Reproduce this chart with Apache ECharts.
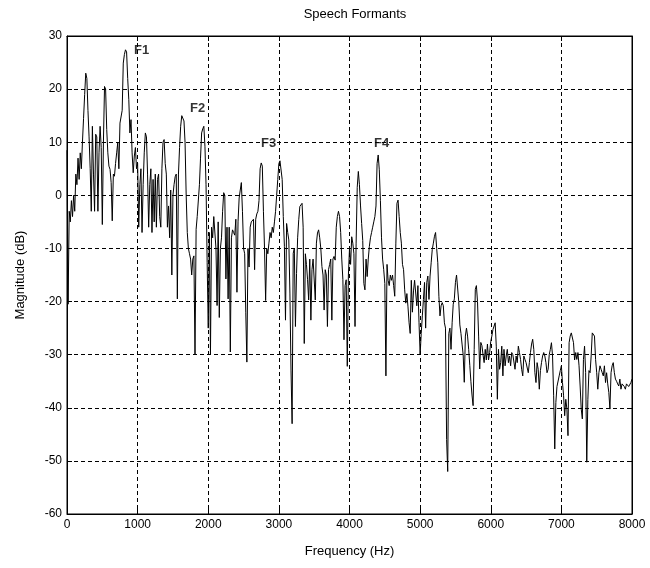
<!DOCTYPE html>
<html>
<head>
<meta charset="utf-8">
<script src="https://cdn.jsdelivr.net/npm/echarts@6/dist/echarts.min.js"></script>
<style>
  html, body { margin: 0; padding: 0; background: #fff; }
  #chart { width: 650px; height: 568px; }
</style>
</head>
<body>
<div id="chart"></div>
<script>
// spectrum bins, 0 .. 8000 Hz, 15.625 Hz apart
const binHz = 15.625
const magnitude = [
  8.5, -20.5, -3, -5, -1, -4, 0, -3, 4, 2,
  7, 3, 8, 5, 10, 14.5, 19, 23, 22, 16,
  11, 5, -3, 13, 4, -3, 11.5, 11, -3, 8,
  13, 9, -5.5, 10, 20.5, 20, 12.4, 8, 5.5, 4.9,
  2.4, -4.8, 4, 3.6, 6, 8, 9.9, 5, 13.6, 13.9,
  16, 24.9, 26.5, 27.4, 27, 22, 18, 11.75, 14.25, 8,
  4.25, 7.4, 9, 5, 6, -6, 2, 5, -7, 2,
  8, 11.75, 11, 4, -6, 2, 5, -7, 3, -5,
  4, -6, 3, 4, -4, -6, 5, 10, 10.5, 6,
  4, -6, -2, -8, 1, -15, 0, 2, 3.5, 4,
  -19.5, 4, 9, 13, 15, 15, 14, 9.9, 0, -7,
  -10, -11, -12, -15, -12, -11.4, -30, -6.4, -4, -4,
  2, 7, 11.75, 12.5, 13, 9.25, 2, -12.6, -25, -7,
  -30, -6, -8, -4, -3.9, -10, -20.75, -5, -23, -10,
  -8, -3, 0.5, 0, -15.75, -6, -19.5, -6, -29.5, -8,
  -6.5, -7, -7.5, -4.5, -18.25, -5, -0.5, 1, 2.4, -3,
  -10, -11, -22, -31.4, -10, -13.5, -6, -5, -5, -4.5,
  -14, -4.5, -3.5, -3, -1, 5, 6.1, 5.5, -3, -10,
  -19.8, -10, -11, -9, -7, -8, -6, -7, -5, -3,
  0, 3, 6, 6.5, 6.75, 3, -4, -9.6, -23.5, -5.3,
  -7, -8.4, -18.4, -32.9, -43, -10.9, -10, -24.7, -14.7, -8,
  -4.6, -2.1, -1.8, -1.5, -6, -27.9, -11, -13, -15.9, -19.7,
  -12, -23.5, -14, -12, -12.2, -19.7, -9, -7.1, -6.5, -8,
  -10, -13.4, -15, -21.6, -14, -15, -24.7, -14, -13, -12,
  -23.5, -12, -11.5, -12.2, -6, -4, -3, -4, -7, -12,
  -15.9, -27.2, -17, -15.9, -32.2, -15, -10, -13, -7.8, -9,
  -11, -24.7, -9, 1.5, 4.5, 2, -2, -5.3, -8.5, -16.6,
  -17.8, -12, -15.3, -12, -9.6, -8, -7, -6, -5, -4,
  -2, 6, 7.6, 4.8, -1, -8, -12, -14, -16.6, -34,
  -13, -16, -17, -15, -16, -15, -17, -19, -9, -1.5,
  -0.9, -4, -7, -9, -13, -14, -17.8, -20.3, -18.5, -21,
  -24, -26, -16, -22, -18, -16, -16, -20.8, -17, -24,
  -30, -26, -22.7, -19.6, -16.4, -25, -16.4, -15.2, -19.6, -15.2,
  -12.7, -10.2, -9, -7.7, -7, -10, -12.7, -19, -22.7, -20.8,
  -20.2, -20.8, -24, -25, -46, -52, -26, -25, -29, -24,
  -20.5, -19.5, -16.4, -15, -15, -20, -24.4, -26, -28, -30,
  -35.2, -26.5, -25, -26.5, -29, -32, -35, -37.6, -39.6, -29,
  -17.7, -17, -20, -26.5, -32.7, -27.7, -28.3, -30, -31.5, -29,
  -31, -28, -31, -29.6, -27.5, -26.5, -25.25, -25, -24, -28.4,
  -38.4, -29, -32.75, -31.5, -28.4, -34, -29, -32.1, -30.25, -29,
  -31.5, -30.25, -32.1, -29.6, -30, -30.25, -32.75, -30.25, -31.5, -28.4,
  -29.6, -30.9, -32.75, -34, -30.25, -30.9, -31.5, -31.5, -33.4, -31.5,
  -29.6, -28, -27.1, -29, -33.4, -35.25, -31.5, -32.75, -36.5, -33,
  -31.5, -30.25, -29.6, -30.25, -31.5, -33.4, -32.75, -30, -29, -27.75,
  -30.25, -37.75, -47.75, -39, -36, -35.9, -34, -33, -32.1, -35.25,
  -37.75, -41.5, -38.4, -40.25, -45.25, -27.75, -26.5, -25.9, -25.6, -27.75,
  -31, -29.6, -30.9, -29.6, -32.1, -35.9, -40.25, -42.1, -30.9, -28.4,
  -33.4, -50.25, -38.4, -33, -33.4, -30.25, -25.9, -25.6, -26.5, -30.9,
  -33.4, -36.5, -33.4, -32.1, -32.75, -33.4, -34, -32.1, -35.25, -33.4,
  -35.5, -37.1, -40.25, -33.4, -32.1, -31.5, -33.4, -34.6, -35, -35.5,
  -35.9, -34.6, -36.5, -35.5, -35.25, -36, -36.5, -35.5, -35.25, -36,
  -35.9, -35.25, -34.6
]

// formant labels
const formantNames = ['F1', 'F2', 'F3', 'F4']
const formantHz = [950, 1742, 2747, 4347]
const formantDb = [27.2, 16.4, 9.7, 9.7]

const xTicks = [0, 8000, 1000]
const yTicks = [-60, 30, 10]

const font = 'Liberation Sans'
const chart = echarts.init(document.getElementById('chart'))

const lineData = magnitude.map((v, i) => [i * binHz, v])
const labelData = formantNames.map((n, i) => ({ name: n, value: [formantHz[i], formantDb[i]] }))

const dashed = { show: true, lineStyle: { color: '#000', type: [4, 3], width: 1 } }
const frameLine = { show: true, onZero: false, lineStyle: { color: '#000' } }
const inTick = { show: true, inside: true, length: 5, lineStyle: { color: '#000' } }

chart.setOption({
  animation: false,
  backgroundColor: '#fff',
  title: {
    text: 'Speech Formants',
    left: 350,
    top: 3,
    textAlign: 'center',
    textStyle: { fontFamily: font, fontSize: 13, fontWeight: 'normal', color: '#000' }
  },
  grid: {
    left: 67, right: 18, top: 36, bottom: 54,
    show: true, borderColor: '#000', borderWidth: 1
  },
  xAxis: [
    {
      type: 'value', min: xTicks[0], max: xTicks[1], interval: xTicks[2],
      name: 'Frequency (Hz)', nameLocation: 'middle', nameGap: 31,
      nameTextStyle: { fontFamily: font, fontSize: 13, color: '#000' },
      axisLine: frameLine,
      axisTick: inTick,
      axisLabel: { fontFamily: font, fontSize: 12, color: '#000', margin: 5, formatter: v => String(v) },
      splitLine: dashed
    },
    {
      type: 'value', position: 'top', min: xTicks[0], max: xTicks[1], interval: xTicks[2],
      axisLine: frameLine, axisTick: inTick,
      axisLabel: { show: false }, splitLine: { show: false }
    }
  ],
  yAxis: [
    {
      type: 'value', min: yTicks[0], max: yTicks[1], interval: yTicks[2],
      name: 'Magnitude (dB)', nameLocation: 'middle', nameGap: 40,
      nameTextStyle: { fontFamily: font, fontSize: 13, color: '#000' },
      axisLine: frameLine,
      axisTick: inTick,
      axisLabel: { fontFamily: font, fontSize: 12, color: '#000', margin: 5 },
      splitLine: dashed
    },
    {
      type: 'value', position: 'right', min: yTicks[0], max: yTicks[1], interval: yTicks[2],
      axisLine: frameLine, axisTick: inTick,
      axisLabel: { show: false }, splitLine: { show: false }
    }
  ],
  series: [
    {
      type: 'line',
      data: lineData,
      showSymbol: false,
      lineStyle: { color: '#000', width: 1 },
      z: 3
    },
    {
      type: 'scatter',
      data: labelData,
      symbolSize: 0,
      label: {
        show: true,
        position: 'right',
        distance: 0,
        formatter: '{b}',
        fontFamily: font,
        fontSize: 13,
        fontWeight: 'bold',
        color: '#000'
      },
      z: 4
    }
  ]
})
</script>
</body>
</html>
